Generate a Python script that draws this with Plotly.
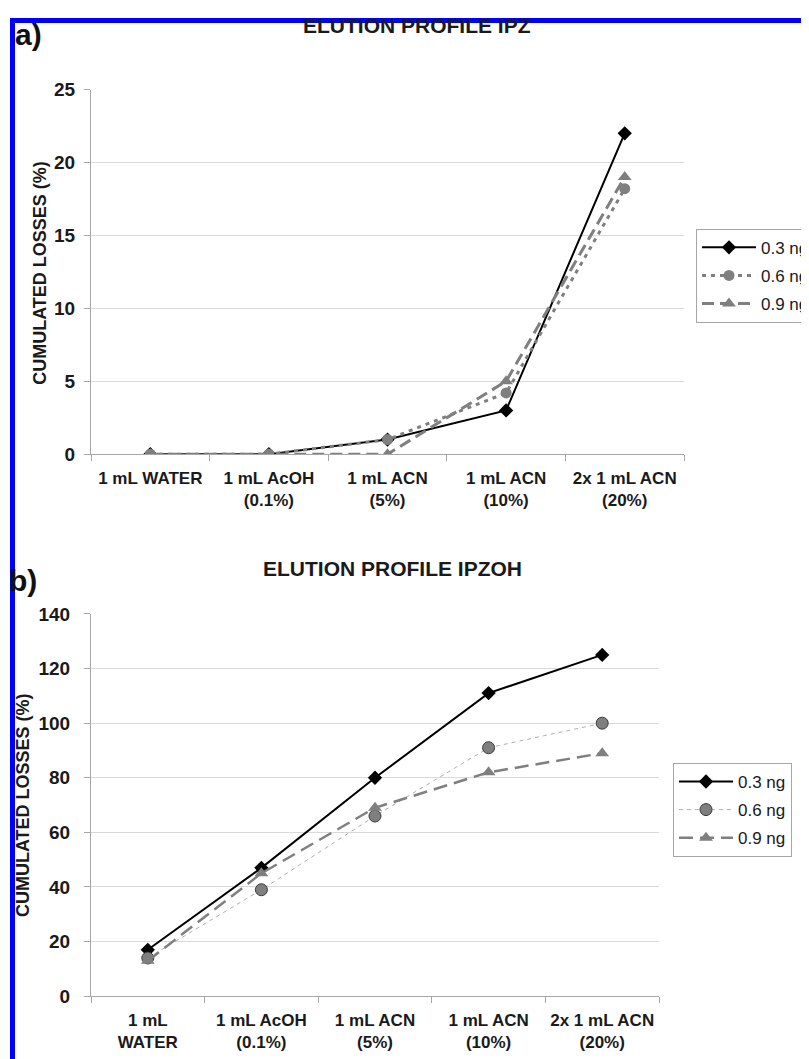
import plotly.graph_objects as go

categories_a = ["1 mL WATER", "1 mL AcOH<br>(0.1%)", "1 mL ACN<br>(5%)", "1 mL ACN<br>(10%)", "2x 1 mL ACN<br>(20%)"]
categories_b = ["1 mL<br>WATER", "1 mL AcOH<br>(0.1%)", "1 mL ACN<br>(5%)", "1 mL ACN<br>(10%)", "2x 1 mL ACN<br>(20%)"]
series_names = ["0.3 ng", "0.6 ng", "0.9 ng"]

ipz_03 = [0, 0, 1, 3, 22]
ipz_06 = [0, 0, 1, 4.2, 18.2]
ipz_09 = [0, 0, 0, 5, 19]

ipzoh_03 = [17, 47, 80, 111, 125]
ipzoh_06 = [14, 39, 66, 91, 100]
ipzoh_09 = [13, 45, 69, 82, 89]

W, H = 809, 1059
OFF = 8  # page body margin offset
def px(x):
    return (x - OFF) / W
def py(y):
    return 1 - (y - OFF) / H

FONT = "Liberation Sans, Arial, sans-serif"
GRAY = "#7f7f7f"

fig = go.Figure()

# Panel a
fig.add_trace(go.Scatter(x=categories_a, y=ipz_03, name=series_names[0], mode="lines+markers",
                         line=dict(color="black", width=2),
                         marker=dict(symbol="diamond", size=11, color="black"),
                         xaxis="x", yaxis="y", legend="legend", legendgroup="a1"))
fig.add_trace(go.Scatter(x=categories_a, y=ipz_06, name=series_names[1], mode="lines+markers",
                         line=dict(color=GRAY, width=3, dash="4px,5px"),
                         marker=dict(symbol="circle", size=11, color=GRAY),
                         xaxis="x", yaxis="y", legend="legend", legendgroup="a2"))
fig.add_trace(go.Scatter(x=categories_a, y=ipz_09, name=series_names[2], mode="lines+markers",
                         line=dict(color=GRAY, width=3, dash="12px,6px"),
                         marker=dict(symbol="triangle-up", size=12, color=GRAY),
                         xaxis="x", yaxis="y", legend="legend", legendgroup="a3"))

# Panel b
fig.add_trace(go.Scatter(x=categories_b, y=ipzoh_03, name=series_names[0], mode="lines+markers",
                         line=dict(color="black", width=2),
                         marker=dict(symbol="diamond", size=11, color="black"),
                         xaxis="x2", yaxis="y2", legend="legend2", legendgroup="b1"))
fig.add_trace(go.Scatter(x=categories_b, y=ipzoh_06, name=series_names[1], mode="lines+markers",
                         line=dict(color="#b0b0b0", width=1, dash="4px,4px"),
                         marker=dict(symbol="circle", size=12, color=GRAY, line=dict(color="#3a3a3a", width=1)),
                         xaxis="x2", yaxis="y2", legend="legend2", legendgroup="b2"))
fig.add_trace(go.Scatter(x=categories_b, y=ipzoh_09, name=series_names[2], mode="lines+markers",
                         line=dict(color=GRAY, width=2.5, dash="14px,7px"),
                         marker=dict(symbol="triangle-up", size=12, color=GRAY),
                         xaxis="x2", yaxis="y2", legend="legend2", legendgroup="b3"))

xtickfont = dict(family=FONT, size=17, color="#1a1a1a", weight="bold")
ytickfont = dict(family=FONT, size=19, color="#1a1a1a", weight="bold")
xcommon = dict(type="category", range=[-0.5, 4.5], tickson="boundaries", ticks="outside", ticklen=6,
               tickcolor="#a6a6a6", showline=True, linecolor="#a6a6a6", linewidth=1,
               showgrid=False, tickfont=xtickfont, fixedrange=True, ticklabelstandoff=8)
ycommon = dict(ticks="outside", ticklen=6, tickcolor="#a6a6a6", showline=True, linecolor="#a6a6a6",
               linewidth=1, showgrid=True, gridcolor="#d9d9d9", gridwidth=1, zeroline=False,
               tickfont=ytickfont, fixedrange=True)

legfont = dict(family=FONT, size=17, color="#1a1a1a")

fig.update_layout(
    width=W, height=H,
    margin=dict(l=0, r=0, t=0, b=0),
    paper_bgcolor="white", plot_bgcolor="white",
    xaxis=dict(domain=[px(91), px(684)], anchor="y", **xcommon),
    yaxis=dict(domain=[py(453), py(81)], anchor="x", range=[0, 25], dtick=5, ticklabelstandoff=5, **ycommon),
    xaxis2=dict(domain=[px(91), px(659)], anchor="y2", **xcommon),
    yaxis2=dict(domain=[py(1006), py(616)], anchor="x2", range=[0, 140], dtick=20, ticklabelstandoff=10, **ycommon),
    legend=dict(x=px(696), y=py(223), xanchor="left", yanchor="top", bgcolor="white",
                bordercolor="#a6a6a6", borderwidth=1, font=legfont, tracegroupgap=3, itemwidth=54),
    legend2=dict(x=px(673), y=py(768), xanchor="left", yanchor="top", bgcolor="white",
                 bordercolor="#a6a6a6", borderwidth=1, font=legfont, tracegroupgap=3, itemwidth=54),
    showlegend=True,
)

ann_font_bold = dict(family=FONT, size=21, color="#1a1a1a", weight="bold")
fig.add_annotation(text="ELUTION PROFILE IPZ", x=px(417), y=py(16), xref="paper", yref="paper",
                   showarrow=False, font=ann_font_bold, xanchor="center", yanchor="middle")
fig.add_annotation(text="ELUTION PROFILE IPZOH", x=px(392), y=py(570), xref="paper", yref="paper",
                   showarrow=False, font=ann_font_bold, xanchor="center", yanchor="middle")
fig.add_annotation(text="a)", x=px(13), y=py(25), xref="paper", yref="paper",
                   showarrow=False, font=dict(family=FONT, size=30, color="#111", weight="bold"),
                   xanchor="left", yanchor="middle")
fig.add_annotation(text="b)", x=px(7), y=py(582), xref="paper", yref="paper",
                   showarrow=False, font=dict(family=FONT, size=30, color="#111", weight="bold"),
                   xanchor="left", yanchor="middle")
ytitle_font = dict(family=FONT, size=18, color="#1a1a1a", weight="bold")
fig.add_annotation(text="CUMULATED LOSSES (%)", x=px(40), y=py(268), xref="paper", yref="paper",
                   showarrow=False, font=ytitle_font, textangle=-90, xanchor="center", yanchor="middle")
fig.add_annotation(text="CUMULATED LOSSES (%)", x=px(23), y=py(811), xref="paper", yref="paper",
                   showarrow=False, font=ytitle_font, textangle=-90, xanchor="center", yanchor="middle")

# blue frame
for (x0, y0, x1, y1) in [(10, 8, 820, 13), (10, 8, 15, H + 20), (803, 8, 806, H + 20)]:
    fig.add_shape(type="rect", xref="paper", yref="paper", x0=px(x0), x1=px(x1), y0=py(y1), y1=py(y0),
                  fillcolor="#0000ff", line=dict(width=0), layer="above")

fig.write_html("out.html")
